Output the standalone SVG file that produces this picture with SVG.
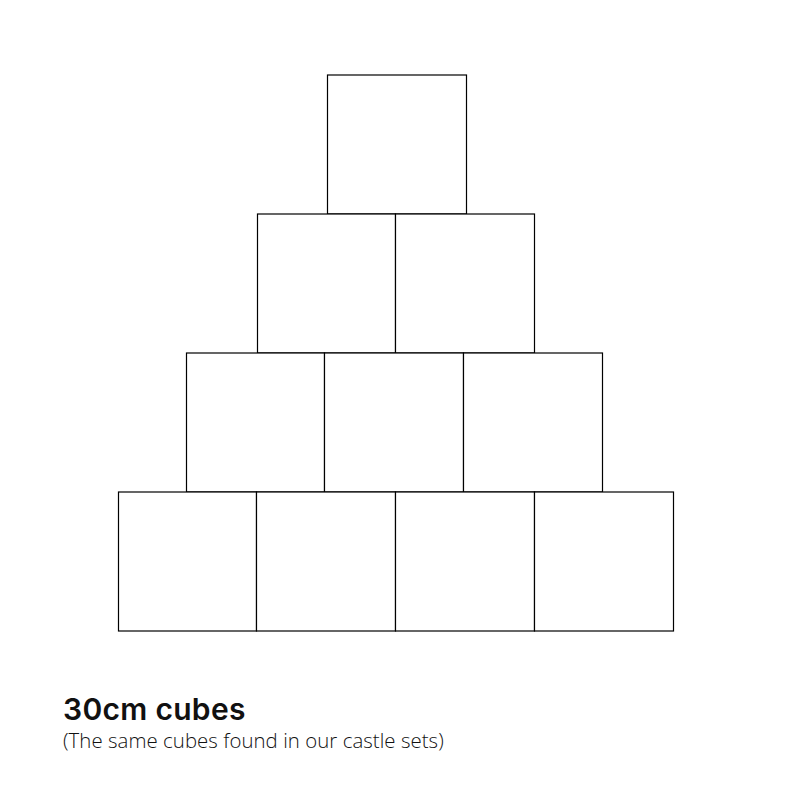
<svg xmlns="http://www.w3.org/2000/svg" width="800" height="800" viewBox="0 0 800 800">
<style>
.cube{fill:#fff;stroke:#000;stroke-width:1.2}
.t1{font-family:Inter,"Noto Sans",sans-serif;font-weight:600;font-size:30px;letter-spacing:0.3px;fill:#111}
.t2{font-family:"Open Sans","Noto Sans",sans-serif;font-weight:300;font-size:20.4px;letter-spacing:0.05px;fill:#111}
</style>
<rect width="800" height="800" fill="#fff"/>
<g id="row1"><rect class="cube" x="327.5" y="75" width="139" height="139"/></g>
<g id="row2">
<rect class="cube" x="257.5" y="214" width="138" height="139"/>
<rect class="cube" x="395.5" y="214" width="139" height="139"/>
</g>
<g id="row3">
<rect class="cube" x="186.5" y="353" width="138" height="139"/>
<rect class="cube" x="324.5" y="353" width="139" height="139"/>
<rect class="cube" x="463.5" y="353" width="139" height="139"/>
</g>
<g id="row4">
<rect class="cube" x="118.5" y="492" width="138" height="139"/>
<rect class="cube" x="256.5" y="492" width="139" height="139"/>
<rect class="cube" x="395.5" y="492" width="139" height="139"/>
<rect class="cube" x="534.5" y="492" width="139" height="139"/>
</g>
<g id="caption">
<text class="t1" x="63" y="720">30cm cubes</text>
<text class="t2" x="63" y="748">(The same cubes found in our castle sets)</text>
</g>
</svg>
